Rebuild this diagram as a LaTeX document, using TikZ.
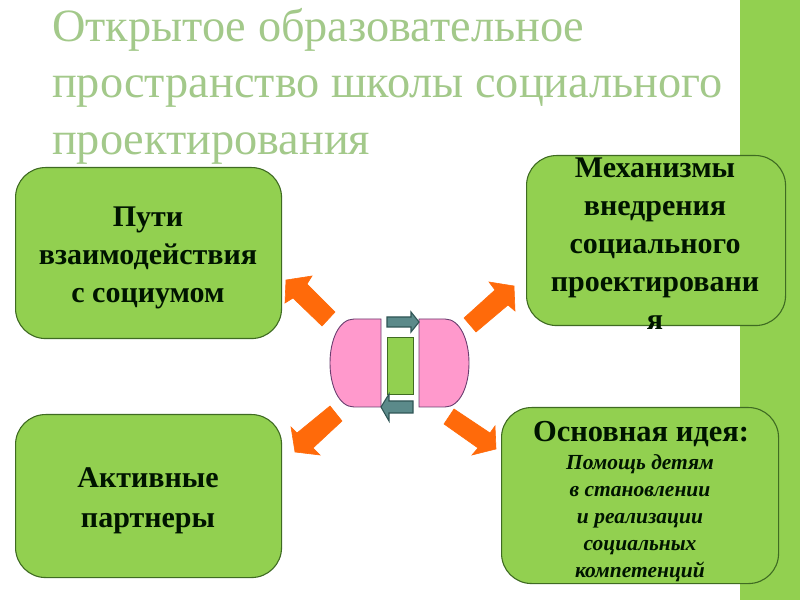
\documentclass[tikz,border=0pt]{standalone}
\usepackage{fontspec}
\setmainfont{Liberation Serif}
\definecolor{leaf}{HTML}{92D050}
\definecolor{leafline}{HTML}{3F6B22}
\definecolor{titlegreen}{HTML}{A3C98A}
\definecolor{pinkfill}{HTML}{FF99CC}
\definecolor{pinkline}{HTML}{6A3F70}
\definecolor{tealfill}{HTML}{5B8A8A}
\definecolor{tealline}{HTML}{2F5555}
\definecolor{orangefill}{HTML}{FF6A0A}
\pgfdeclareradialshading{pagebg}{\pgfpoint{0bp}{0bp}}{color(0bp)=(white); color(30bp)=(white); color(50bp)=(black!17)}
\tikzset{
  greenbox/.style={draw=leafline,line width=1.1pt,fill=leaf,rounded corners=30pt,inner sep=0pt,anchor=north west},
  boxtext/.style={align=center,font=\fontsize{30}{38}\selectfont\bfseries,text=black!92!green,inner sep=0pt},
  pinkpart/.style={draw=pinkline,line width=0.9pt,fill=pinkfill},
  tealpart/.style={draw=tealline,line width=1.1pt,fill=tealfill},
  blockarrow/.style={fill=orangefill,draw=orangefill,line width=0.6pt},
  titletext/.style={align=left,anchor=north west,inner sep=0pt,text=titlegreen,font=\fontsize{46.3}{56.5}\selectfont}
}
\begin{document}
\begin{tikzpicture}[x=1pt,y=-1pt,yshift=600pt]
\useasboundingbox (0,0) rectangle (800,600);
\begin{scope}
\clip (0,0) rectangle (800,600);
\shade[shading=pagebg] (300,330) circle (530pt);
\fill[leaf] (740,0) rectangle (800,600);
\end{scope}

\node[titletext] (title) at (52,8) {Открытое образовательное\\пространство школы социального\\проектирования};

\node[greenbox,minimum width=266pt,minimum height=171pt] (ul) at (15,167) {};
\node[greenbox,minimum width=259pt,minimum height=170pt] (ur) at (526,155) {};
\node[greenbox,minimum width=266pt,minimum height=163pt] (ll) at (15,414) {};
\node[greenbox,minimum width=277pt,minimum height=176pt] (lr) at (501,407) {};

\node[boxtext] (ultext) at (148,258) {Пути\\взаимодействия\\с социумом};
\node[boxtext] (urtext) at (655,243.5) {Механизмы\\внедрения\\социального\\проектировани\\я};
\node[boxtext,font=\fontsize{30}{40}\selectfont\bfseries] (lltext) at (148,501) {Активные\\партнеры};
\node[boxtext,font=\fontsize{30.5}{27}\selectfont\bfseries] (lrhead) at (641,434) {Основная идея:};
\node[boxtext,font=\fontsize{21.5}{27}\selectfont\bfseries\itshape] (lrtext) at (640,518) {Помощь детям\\в становлении\\и реализации\\социальных\\компетенций};

\draw[pinkpart] (381,319) -- (354,319) .. controls (339,319) and (330,340) .. (330,363) .. controls (330,386) and (339,407) .. (354,407) -- (381,407) -- cycle;
\draw[pinkpart] (419,319) -- (445,319) .. controls (460,319) and (469,340) .. (469,363) .. controls (469,386) and (460,407) .. (445,407) -- (419,407) -- cycle;
\node[draw=leafline,line width=0.9pt,fill=leaf,inner sep=0pt,minimum width=26pt,minimum height=57pt] (core) at (400,366) {};
\draw[tealpart] (387,317) -- (411,317) -- (411,312) -- (419,322) -- (411,332) -- (411,327) -- (387,327) -- cycle;
\draw[tealpart] (413,401) -- (389,401) -- (389,394) -- (381,407) -- (389,421) -- (389,413) -- (413,413) -- cycle;

\filldraw[blockarrow] (335,312) -- (307,284) -- (312,276) -- (286,280) -- (285,303) -- (293,298) -- (322,326) -- cycle;
\filldraw[blockarrow] (464,318) -- (495,290) -- (489,282) -- (514,286) -- (515,311) -- (508,305) -- (476,332) -- cycle;
\filldraw[blockarrow] (330,406) -- (297,433) -- (291,427) -- (295,452) -- (320,455) -- (313,448) -- (342,421) -- cycle;
\filldraw[blockarrow] (454,409) -- (490,433) -- (495,426) -- (496,449) -- (472,455) -- (478,448) -- (444,424) -- cycle;
\end{tikzpicture}
\end{document}
